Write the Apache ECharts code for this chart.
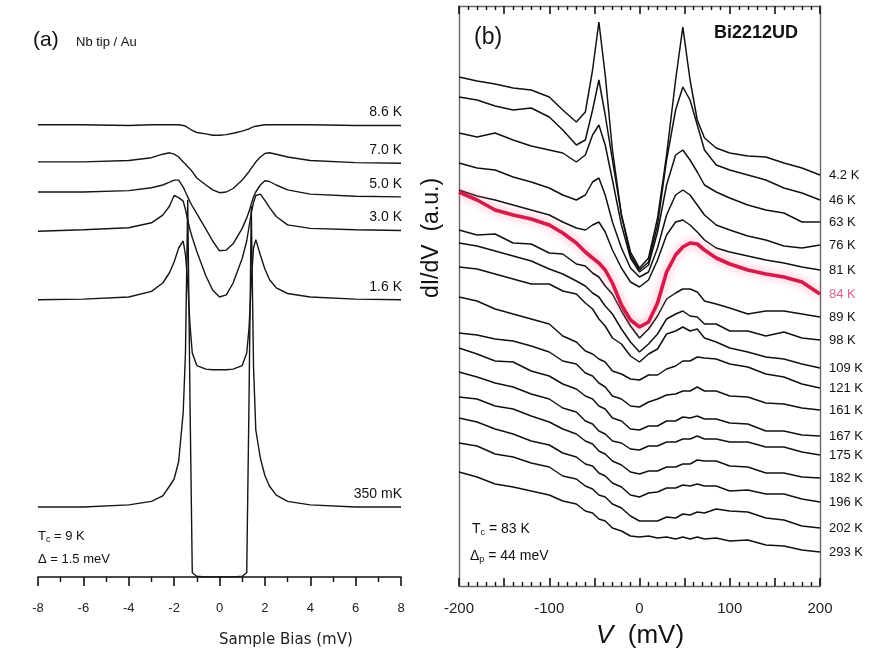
<!DOCTYPE html>
<html><head><meta charset="utf-8">
<script src="https://cdn.jsdelivr.net/npm/echarts/dist/echarts.min.js"></script>
<style>html,body{margin:0;padding:0;background:#fff}#c{width:882px;height:655px}</style>
</head><body><div id="c"></div>
<script>
// ---------- Panel (a): Nb tip / Au, normalized dI/dV with offsets ----------
const biasA = [-8,-6,-4,-3,-2.5,-2.2,-2,-1.8,-1.6,-1.5,-1.4,-1.3,-1.2,-1,-0.6,-0.3,0,0.3,0.6,1,1.2,1.3,1.4,1.5,1.6,1.8,2,2.2,2.5,3,4,6,8];
const tempsA = ['8.6 K','7.0 K','5.0 K','3.0 K','1.6 K','350 mK'];
const a86  = [6.46,6.46,6.45,6.46,6.46,6.46,6.46,6.46,6.45,6.44,6.42,6.40,6.38,6.35,6.33,6.31,6.31,6.32,6.34,6.37,6.39,6.40,6.42,6.43,6.44,6.45,6.46,6.46,6.46,6.46,6.46,6.45,6.45];
const a70  = [5.93,5.93,5.95,5.99,6.04,6.06,6.04,6.00,5.93,5.90,5.86,5.83,5.79,5.70,5.60,5.53,5.49,5.50,5.55,5.67,5.75,5.79,5.84,5.88,5.93,6.00,6.05,6.06,6.04,6.00,5.95,5.92,5.91];
const a50  = [5.50,5.50,5.52,5.56,5.60,5.64,5.67,5.67,5.57,5.50,5.43,5.36,5.30,5.19,4.97,4.80,4.66,4.67,4.76,4.98,5.13,5.22,5.33,5.43,5.50,5.60,5.66,5.65,5.60,5.53,5.47,5.44,5.43];
const a30  = [4.94,4.96,4.99,5.06,5.17,5.30,5.45,5.42,5.37,5.25,5.10,4.96,4.85,4.65,4.30,4.10,4.00,4.03,4.20,4.55,4.80,5.00,5.20,5.35,5.45,5.47,5.38,5.28,5.15,5.03,4.98,4.96,4.95];
const a16  = [3.96,3.97,4.00,4.08,4.20,4.35,4.50,4.70,4.80,4.60,4.20,3.60,3.20,3.02,2.97,2.96,2.96,2.96,2.97,3.02,3.20,3.55,4.20,4.70,4.82,4.60,4.40,4.25,4.13,4.05,4.00,3.97,3.96];
const a035 = [1.00,1.00,1.03,1.08,1.16,1.30,1.40,1.65,2.35,3.20,5.39,2.50,0.06,0.01,0.00,0.00,0.00,0.00,0.00,0.01,0.06,2.50,5.30,3.00,2.10,1.70,1.45,1.30,1.17,1.08,1.03,1.00,1.00];
const ticksA = [-8,-6,-4,-2,0,2,4,6,8];

// ---------- Panel (b): Bi2212 UD, dI/dV (a.u.) with offsets ----------
const biasB = [-200,-180,-160,-140,-120,-100,-85,-70,-60,-52,-45,-38,-30,-20,-10,0,10,20,30,40,48,56,64,72,85,100,120,140,160,180,200];
const tempsB = ['4.2 K','46 K','63 K','76 K','81 K','84 K','89 K','98 K','109 K','121 K','161 K','167 K','175 K','182 K','196 K','202 K','293 K'];
const b4_2 = [509,505,502,498,496,489,476,464,474,516,564,511,436,371,334,318,328,368,431,506,559,506,466,448,438,433,430,429,423,418,411];
const b46  = [489,486,480,476,478,469,456,441,446,476,506,471,426,371,331,316,324,361,426,476,499,486,461,436,421,416,411,406,398,393,386];
const b63  = [453,449,453,446,440,436,433,424,431,451,461,441,406,361,328,314,321,354,401,431,436,426,414,401,394,388,381,376,373,364,364];
const b76  = [423,418,416,409,404,398,391,386,391,404,408,391,364,338,318,309,314,338,371,391,396,391,381,371,361,356,350,346,340,338,341];
const b81  = [396,390,386,381,376,371,364,358,356,361,364,354,336,318,304,299,306,326,351,364,366,361,354,346,338,334,330,326,323,319,316];
const b84  = [394,386,376,371,367,361,353,343,334,328,323,316,303,281,266,259,264,283,314,331,339,343,342,336,328,322,316,312,309,304,292];
const b89  = [356,351,352,343,342,333,332,322,320,313,309,300,292,275,260,248,257,270,287,293,297,297,294,285,282,278,272,275,275,272,269];
const b98  = [343,340,335,330,325,317,312,305,300,293,289,280,272,257,244,234,242,252,267,272,275,270,269,262,262,255,255,250,254,248,246];
const b109 = [319,317,312,307,302,302,295,292,283,277,267,260,248,242,230,224,232,237,252,255,259,255,257,248,244,238,234,229,227,222,218];
const b121 = [289,285,277,272,267,262,250,244,235,232,227,224,215,212,207,206,211,211,217,220,225,225,229,228,227,222,219,212,209,202,198];
const b161 = [253,251,247,245,240,234,225,222,213,210,203,199,190,187,180,179,184,187,191,192,195,195,199,195,195,190,189,183,182,178,176];
const b167 = [238,232,225,224,215,210,202,197,190,187,180,177,168,165,157,156,160,160,165,165,169,168,170,167,167,163,162,155,155,151,150];
const b175 = [214,209,203,199,192,187,178,174,165,162,155,152,145,143,137,136,140,140,144,144,147,147,150,147,147,144,144,139,139,134,131];
const b182 = [189,187,180,177,170,164,157,152,145,142,135,132,125,121,114,112,115,115,119,119,122,122,126,125,125,120,119,113,113,109,108];
const b196 = [168,164,157,152,145,141,133,129,122,120,113,110,103,99,91,89,93,94,98,98,101,100,102,100,100,95,96,92,92,87,84];
const b202 = [143,140,132,129,123,119,110,107,100,97,91,89,82,78,70,65,65,65,69,68,72,71,74,73,77,75,74,68,66,60,58];
const b293 = [114,109,102,99,95,91,85,82,75,73,67,65,58,55,50,49,50,48,49,47,49,47,49,47,48,45,46,41,40,36,34];
const ticksB = [-200,-100,0,100,200];

const FONT = '"Liberation Sans", Arial, Helvetica, sans-serif';
const curvesA = [a86,a70,a50,a30,a16,a035];
const curvesB = [b4_2,b46,b63,b76,b81,b84,b89,b98,b109,b121,b161,b167,b175,b182,b196,b202,b293];
const RED = 5;

const chart = echarts.init(document.getElementById('c'), null, {renderer:'canvas'});

const seriesA = curvesA.map((arr,i)=>({
  type:'line', name: tempsA[i], xAxisIndex:0, yAxisIndex:0, silent:true,
  data: biasA.map((x,j)=>[x,arr[j]]), symbol:'none',
  lineStyle:{color:'#151515', width:1.4}
}));
const seriesB = curvesB.map((arr,i)=>({
  type:'line', name: tempsB[i], xAxisIndex:1, yAxisIndex:1, silent:true,
  data: biasB.map((x,j)=>[x,arr[j]]), symbol:'none', z: i===RED?5:2,
  lineStyle: i===RED ? {color:'#d21c4c', width:3.6, shadowColor:'rgba(255,120,155,0.8)', shadowBlur:9}
                     : {color:'#111', width:1.5},
  endLabel:{show:true, formatter:'{a}', distance:9, fontSize:13, fontFamily:FONT,
            color: i===RED ? '#dc6388' : '#111'}
}));

const axisCommonB = {
  type:'value', gridIndex:1, min:-200, max:200, interval:50,
  axisLine:{show:true, onZero:false, lineStyle:{color:'#666', width:1.4}},
  axisTick:{show:true, inside:true, length:8, lineStyle:{color:'#111', width:1.6}},
  minorTick:{show:true, splitNumber:5, length:4, lineStyle:{color:'#111', width:1.4}},
  splitLine:{show:false}
};

chart.setOption({
  animation:false,
  backgroundColor:'#fff',
  grid:[
    {left:38, top:87, width:363, height:490},
    {left:459, top:6, width:361, height:580}
  ],
  xAxis:[
    {type:'value', gridIndex:0, min:-8, max:8, interval:2,
     axisLine:{show:true, onZero:false, lineStyle:{color:'#111', width:1.5}},
     axisTick:{show:true, length:9, lineStyle:{color:'#111', width:1.6}},
     minorTick:{show:true, splitNumber:2, length:5, lineStyle:{color:'#111', width:1.4}},
     axisLabel:{fontSize:13, fontFamily:FONT, color:'#222', margin:25,
       formatter:v=> ticksA.includes(v) ? String(v) : ''},
     splitLine:{show:false}},
    Object.assign({}, axisCommonB, {position:'bottom',
      axisLabel:{fontSize:15, fontFamily:FONT, color:'#222', margin:15,
        formatter:v=> ticksB.includes(v) ? String(v) : ''}}),
    Object.assign({}, axisCommonB, {position:'top', axisLabel:{show:false}})
  ],
  yAxis:[
    {type:'value', gridIndex:0, min:0, max:7, show:false},
    {type:'value', gridIndex:1, min:0, max:580, position:'left',
     axisLine:{show:true, onZero:false, lineStyle:{color:'#666', width:1.4}}, axisTick:{show:false},
     axisLabel:{show:false}, splitLine:{show:false}},
    {type:'value', gridIndex:1, min:0, max:580, position:'right',
     axisLine:{show:true, onZero:false, lineStyle:{color:'#666', width:1.4}}, axisTick:{show:false},
     axisLabel:{show:false}, splitLine:{show:false}}
  ],
  series: seriesA.concat(seriesB)
});

// temperature labels of panel (a): right-aligned above each curve's end
const labelsA = curvesA.map((arr,i)=>{
  const p = chart.convertToPixel({gridIndex:0}, [biasA[biasA.length-1], arr[arr.length-1]]);
  return {type:'text', right: 882 - p[0] - 1, top: p[1] - 20,
    style:{text: tempsA[i], font:'14px '+FONT, fill:'#111'}};
});

chart.setOption({
  graphic: labelsA.concat([
    {type:'text', left:33, top:30, style:{text:'(a)', font:'21px '+FONT, fill:'#111'}},
    {type:'text', left:76, top:36, style:{text:'Nb tip / Au', font:'13px '+FONT, fill:'#111'}},
    {type:'text', left:38, top:530, style:{rich:{n:{font:'13px '+FONT, fill:'#111'}, s:{font:'9px '+FONT, fill:'#111', padding:[6,0,0,0]}}, text:'{n|T}{s|c}{n| = 9 K}'}},
    {type:'text', left:38, top:553, style:{text:'Δ = 1.5 meV', font:'13px '+FONT, fill:'#111'}},
    {type:'text', left:219, top:633, style:{text:'Sample Bias (mV)', font:'15px "DejaVu Sans", '+FONT, fill:'#222', align:'center'}},
    {type:'text', left:474, top:26, style:{text:'(b)', font:'23px '+FONT, fill:'#111'}},
    {type:'text', left:714, top:24, style:{text:'Bi2212UD', font:'bold 18px '+FONT, fill:'#111'}},
    {type:'text', left:472, top:522, style:{rich:{n:{font:'14px '+FONT, fill:'#111'}, s:{font:'9px '+FONT, fill:'#111', padding:[7,0,0,0]}}, text:'{n|T}{s|c}{n| = 83 K}'}},
    {type:'text', left:470, top:549, style:{rich:{n:{font:'14px '+FONT, fill:'#111'}, s:{font:'9px '+FONT, fill:'#111', padding:[7,0,0,0]}}, text:'{n|Δ}{s|p}{n| = 44 meV}'}},
    {type:'text', x:432, y:238, rotation:Math.PI/2, style:{text:'dI/dV  (a.u.)', font:'23px '+FONT, fill:'#111', align:'center', verticalAlign:'middle'}},
    {type:'text', x:640, y:636, style:{rich:{i:{font:'italic 26px '+FONT, fill:'#111'}, n:{font:'26px '+FONT, fill:'#111'}}, text:'{i|V}{n|  (mV)}', align:'center', verticalAlign:'middle'}}
  ])
});
</script></body></html>
